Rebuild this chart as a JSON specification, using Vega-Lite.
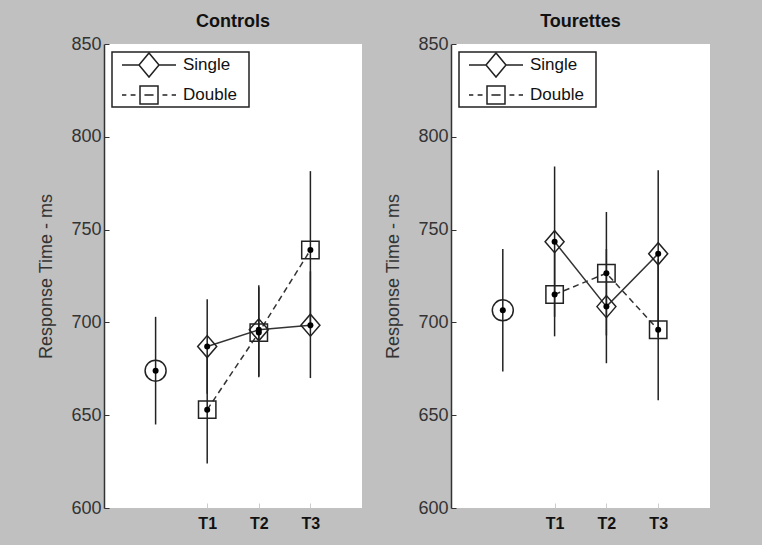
{
  "$schema": "https://vega.github.io/schema/vega-lite/v6.json",
  "background": "#c0c0c0",
  "padding": {"left": 37, "top": 13, "right": 52, "bottom": 17},
  "spacing": 22,
  "datasets": {
    "rt": [
      {"panel": "Controls", "cond": "Baseline", "time": "Baseline", "mean": 674, "lo": 645, "hi": 703},
      {"panel": "Controls", "cond": "Single", "time": "T1", "mean": 687, "lo": 661.5, "hi": 712.5},
      {"panel": "Controls", "cond": "Double", "time": "T1", "mean": 653, "lo": 624, "hi": 682},
      {"panel": "Controls", "cond": "Single", "time": "T2", "mean": 696, "lo": 671, "hi": 720},
      {"panel": "Controls", "cond": "Double", "time": "T2", "mean": 694.5, "lo": 670.5, "hi": 719},
      {"panel": "Controls", "cond": "Single", "time": "T3", "mean": 698.5, "lo": 670, "hi": 727.5},
      {"panel": "Controls", "cond": "Double", "time": "T3", "mean": 739, "lo": 696.5, "hi": 781.5},
      {"panel": "Tourettes", "cond": "Baseline", "time": "Baseline", "mean": 706.5, "lo": 673.5, "hi": 739.5},
      {"panel": "Tourettes", "cond": "Single", "time": "T1", "mean": 743.5, "lo": 703, "hi": 784},
      {"panel": "Tourettes", "cond": "Double", "time": "T1", "mean": 715, "lo": 692.5, "hi": 738},
      {"panel": "Tourettes", "cond": "Single", "time": "T2", "mean": 708.5, "lo": 678, "hi": 739.5},
      {"panel": "Tourettes", "cond": "Double", "time": "T2", "mean": 726.5, "lo": 693, "hi": 759.5},
      {"panel": "Tourettes", "cond": "Single", "time": "T3", "mean": 737, "lo": 692, "hi": 782},
      {"panel": "Tourettes", "cond": "Double", "time": "T3", "mean": 696, "lo": 658, "hi": 734}
    ]
  },
  "resolve": {
    "scale": {"shape": "independent"},
    "legend": {"shape": "independent"}
  },
  "hconcat": [
    {
      "title": {"text": "Controls"},
      "width": 258,
      "height": 464,
      "data": {"name": "rt"},
      "transform": [{"filter": "datum.panel === 'Controls'"}],
      "encoding": {
        "x": {"field": "time", "type": "ordinal", "scale": {"type": "point", "domain": ["Baseline", "T1", "T2", "T3"], "padding": 1},
              "axis": {"values": ["T1", "T2", "T3"], "title": null, "labelAngle": 0}},
        "y": {"field": "mean", "type": "quantitative", "scale": {"domain": [600, 850], "nice": false, "zero": false},
              "axis": {"values": [600, 650, 700, 750, 800, 850], "title": "Response Time - ms"}}
      },
      "layer": [
        {"mark": {"type": "rule", "color": "#222", "strokeWidth": 1.5},
         "encoding": {"y": {"field": "lo", "type": "quantitative"}, "y2": {"field": "hi"}}},
        {"transform": [{"filter": "datum.cond === 'Single'"}],
         "mark": {"type": "line", "color": "#333", "strokeWidth": 1.5},
         "encoding": {}},
        {"transform": [{"filter": "datum.cond === 'Double'"}],
         "mark": {"type": "line", "color": "#333", "strokeWidth": 1.5, "strokeDash": [6, 4]},
         "encoding": {}},
        {"transform": [{"filter": "datum.cond === 'Single'"}],
         "mark": {"type": "point", "shape": "M-0.95,0L0,-1.1L0.95,0L0,1.1Z", "filled": false, "stroke": "#222", "strokeWidth": 1.5, "size": 400, "opacity": 1}},
        {"transform": [{"filter": "datum.cond === 'Double'"}],
         "mark": {"type": "point", "shape": "M-0.87,-0.87L0.87,-0.87L0.87,0.87L-0.87,0.87Z", "filled": false, "stroke": "#222", "strokeWidth": 1.5, "size": 400, "opacity": 1}},
        {"transform": [{"filter": "datum.cond !== 'Baseline'"}],
         "mark": {"type": "point", "filled": false, "stroke": "#222", "strokeWidth": 1.5, "size": 0, "opacity": 1},
         "encoding": {"shape": {"field": "cond", "type": "nominal",
            "scale": {"domain": ["Single", "Double"], "range": ["M-2.25,0L-0.833,0M0.833,0L2.25,0M-0.833,0L0,-1L0.833,0L0,1Z", "M-2.25,0L-1.89,0M-1.53,0L-1.125,0M-0.75,-0.75L0.75,-0.75L0.75,0.75L-0.75,0.75ZM-0.38,0L0.38,0M1.125,0L1.53,0M1.89,0L2.25,0"]},
            "legend": {"title": null, "orient": "top-left", "offset": 8, "symbolSize": 576, "symbolOffset": 24, "labelOffset": 21,
              "labelExpr": "datum.label + '\u2800'",
              "encode": {"symbols": {"update": {"fill": {"value": "transparent"}, "stroke": {"value": "#222"}, "strokeWidth": {"value": 1.5}, "opacity": {"value": 1}}}}}}}},
        {"transform": [{"filter": "datum.cond === 'Baseline'"}],
         "mark": {"type": "point", "shape": "circle", "filled": false, "stroke": "#222", "strokeWidth": 1.5, "size": 441, "opacity": 1}},
        {"mark": {"type": "circle", "color": "#000", "size": 36, "opacity": 1}}
      ]
    },
    {
      "title": {"text": "Tourettes"},
      "width": 259,
      "height": 464,
      "data": {"name": "rt"},
      "transform": [{"filter": "datum.panel === 'Tourettes'"}],
      "encoding": {
        "x": {"field": "time", "type": "ordinal", "scale": {"type": "point", "domain": ["Baseline", "T1", "T2", "T3"], "padding": 1},
              "axis": {"values": ["T1", "T2", "T3"], "title": null, "labelAngle": 0}},
        "y": {"field": "mean", "type": "quantitative", "scale": {"domain": [600, 850], "nice": false, "zero": false},
              "axis": {"values": [600, 650, 700, 750, 800, 850], "title": "Response Time - ms"}}
      },
      "layer": [
        {"mark": {"type": "rule", "color": "#222", "strokeWidth": 1.5},
         "encoding": {"y": {"field": "lo", "type": "quantitative"}, "y2": {"field": "hi"}}},
        {"transform": [{"filter": "datum.cond === 'Single'"}],
         "mark": {"type": "line", "color": "#333", "strokeWidth": 1.5},
         "encoding": {}},
        {"transform": [{"filter": "datum.cond === 'Double'"}],
         "mark": {"type": "line", "color": "#333", "strokeWidth": 1.5, "strokeDash": [6, 4]},
         "encoding": {}},
        {"transform": [{"filter": "datum.cond === 'Single'"}],
         "mark": {"type": "point", "shape": "M-0.95,0L0,-1.1L0.95,0L0,1.1Z", "filled": false, "stroke": "#222", "strokeWidth": 1.5, "size": 400, "opacity": 1}},
        {"transform": [{"filter": "datum.cond === 'Double'"}],
         "mark": {"type": "point", "shape": "M-0.87,-0.87L0.87,-0.87L0.87,0.87L-0.87,0.87Z", "filled": false, "stroke": "#222", "strokeWidth": 1.5, "size": 400, "opacity": 1}},
        {"transform": [{"filter": "datum.cond !== 'Baseline'"}],
         "mark": {"type": "point", "filled": false, "stroke": "#222", "strokeWidth": 1.5, "size": 0, "opacity": 1},
         "encoding": {"shape": {"field": "cond", "type": "nominal",
            "scale": {"domain": ["Single", "Double"], "range": ["M-2.25,0L-0.833,0M0.833,0L2.25,0M-0.833,0L0,-1L0.833,0L0,1Z", "M-2.25,0L-1.89,0M-1.53,0L-1.125,0M-0.75,-0.75L0.75,-0.75L0.75,0.75L-0.75,0.75ZM-0.38,0L0.38,0M1.125,0L1.53,0M1.89,0L2.25,0"]},
            "legend": {"title": null, "orient": "top-left", "offset": 8, "symbolSize": 576, "symbolOffset": 24, "labelOffset": 21,
              "labelExpr": "datum.label + '\u2800'",
              "encode": {"symbols": {"update": {"fill": {"value": "transparent"}, "stroke": {"value": "#222"}, "strokeWidth": {"value": 1.5}, "opacity": {"value": 1}}}}}}}},
        {"transform": [{"filter": "datum.cond === 'Baseline'"}],
         "mark": {"type": "point", "shape": "circle", "filled": false, "stroke": "#222", "strokeWidth": 1.5, "size": 441, "opacity": 1}},
        {"mark": {"type": "circle", "color": "#000", "size": 36, "opacity": 1}}
      ]
    }
  ],
  "config": {
    "font": "Liberation Sans",
    "view": {"fill": "white", "stroke": null},
    "title": {"fontSize": 18, "fontWeight": "bold", "color": "#111", "offset": 0, "anchor": "middle"},
    "axisY": {"grid": false, "domainColor": "#333", "domainWidth": 1.5, "tickColor": "#333", "tickSize": -5, "tickWidth": 1,
              "labelFontSize": 18, "labelColor": "#333", "labelPadding": 8, "titleFontSize": 18, "titleFontWeight": "normal", "titleColor": "#333", "titlePadding": 15},
    "axisX": {"grid": false, "domain": false, "tickColor": "#ccc", "tickSize": -5, "labelFontSize": 16, "labelFontWeight": "bold", "labelColor": "#111", "labelPadding": 12},
    "legend": {"strokeColor": "#222", "fillColor": "white", "padding": 0, "cornerRadius": 0, "strokeWidth": 1.5,
               "labelFontSize": 17, "labelColor": "#111", "rowPadding": 2}
  }
}
